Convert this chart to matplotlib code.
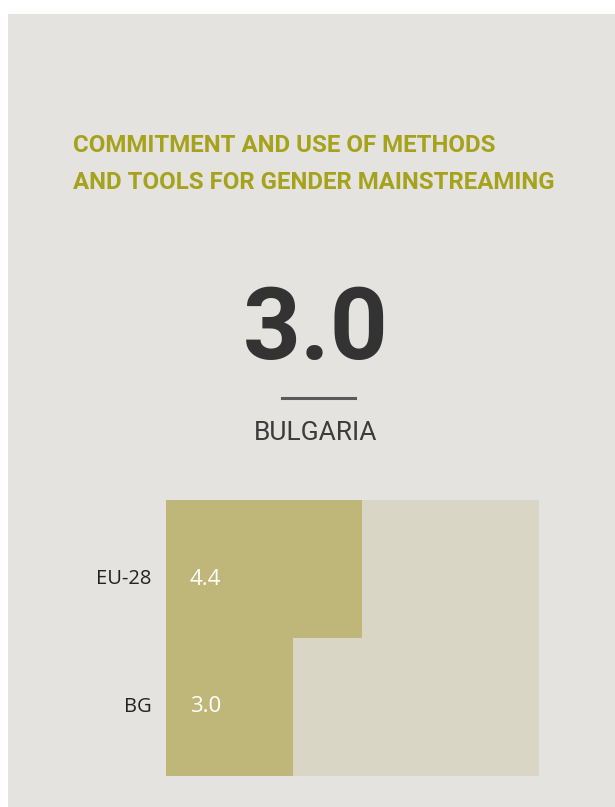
import matplotlib.pyplot as plt
from matplotlib.patches import Rectangle

# chart values
title = "COMMITMENT AND USE OF METHODS\nAND TOOLS FOR GENDER MAINSTREAMING"
headline_value = "3.0"
country = "BULGARIA"
labels = ["EU-28", "BG"]
values = [4.4, 3.0]
scale_min = 0.42
scale_max = 8.0

panel_color = "#e4e3df"
bar_color = "#bfb779"
track_color = "#d9d6c6"
title_color = "#a6a21c"
dark = "#333333"

fig = plt.figure(figsize=(6.15, 8.07), dpi=100)
fig.patch.set_facecolor("white")
fig.patches.append(Rectangle((8 / 615, 0), 1, 1 - 14 / 807, transform=fig.transFigure,
                             facecolor=panel_color, edgecolor="none", zorder=-5))

fig.text(73 / 615, 1 - 164 / 807, title, color=title_color, fontsize=17.3,
         fontweight="bold", family="Roboto", linespacing=1.78, va="center", ha="left")

fig.text(316 / 615, 1 - 331 / 807, headline_value, color=dark, fontsize=73,
         fontweight="bold", family="Roboto", ha="center", va="center")
fig.lines.append(plt.Line2D([282 / 615, 355 / 615], [1 - 398 / 807, 1 - 398 / 807],
                            transform=fig.transFigure, color="#5a5a5a", linewidth=2.2))
fig.text(316 / 615, 1 - 433 / 807, country, color="#3c3c3c", fontsize=19,
         family="Roboto", ha="center", va="center")

ax = fig.add_axes([166 / 615, 1 - 776 / 807, 373 / 615, 276 / 807])
ax.set_facecolor("none")
ypos = [1, 0]
ax.barh(ypos, [scale_max - scale_min] * len(values), left=scale_min, height=1.0,
        color=track_color, edgecolor="none")
ax.barh(ypos, [v - scale_min for v in values], left=scale_min, height=1.0,
        color=bar_color, edgecolor="none")
# the labels of the top row sit a little below its middle
label_shift = [-0.075, 0.0]
for y, v, lab, dy in zip(ypos, values, labels, label_shift):
    ax.text(scale_min + 0.48, y + dy, f"{v:.1f}", color="white", fontsize=16,
            family="Open Sans", ha="left", va="center")
    ax.text(scale_min - 0.29, y + dy, lab, color="#222222", fontsize=14.5,
            family="Open Sans", ha="right", va="center")
ax.set_xlim(scale_min, scale_max)
ax.set_ylim(-0.5, 1.5)
ax.axis("off")

fig.savefig("out.png", dpi=100, facecolor=fig.get_facecolor())
